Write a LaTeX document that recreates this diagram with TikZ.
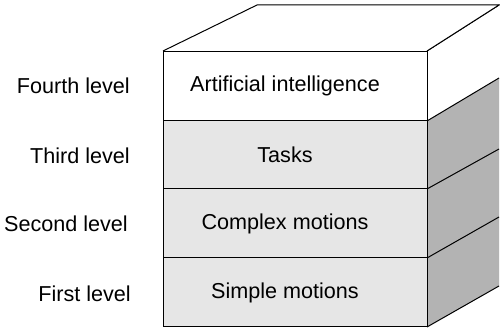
\documentclass[tikz,border=0pt]{standalone}
\usepackage{fontspec}
\setmainfont{Liberation Sans}
\definecolor{frontgray}{HTML}{E6E6E6}
\definecolor{sidegray}{HTML}{B3B3B3}
\begin{document}
\begin{tikzpicture}[x=1pt,y=1pt,
  edge/.style={line width=1pt, line join=miter},
  face/.style={draw, line width=1pt, rectangle, inner sep=0pt, minimum width=264pt, minimum height=69pt},
  facetext/.style={font=\fontsize{21.6}{24}\selectfont, inner sep=0pt},
  lvl/.style={font=\fontsize{21.6}{24}\selectfont, anchor=east, inner sep=0pt}]
\useasboundingbox (0,0) rectangle (500,328);
% coordinates
\coordinate (fl4) at (163,277); \coordinate (fr4) at (427,277);
\coordinate (fr3) at (427,207); \coordinate (fr2) at (427,139);
\coordinate (fr1) at (427,70);  \coordinate (fr0) at (427,1);
\coordinate (bl) at (257,323);  \coordinate (br4) at (499,323);
\coordinate (br3) at (499,250); \coordinate (br2) at (499,179);
\coordinate (br1) at (499,111); \coordinate (br0) at (499,42);
% side faces
\fill[white] (fr4) -- (br4) -- (br3) -- (fr3) -- cycle;
\fill[sidegray] (fr3) -- (br3) -- (br0) -- (fr0) -- cycle;
\draw[edge] (fr4) -- (br4);
\draw[edge] (fr3) -- (br3);
\draw[edge] (fr2) -- (br2);
\draw[edge] (fr1) -- (br1);
\draw[edge] (fr0) -- (br0);
% top face
\draw[edge, fill=white] (fl4) -- (bl) -- (br4) -- (fr4);
% front faces
\node[face, fill=white] (f4) at (295,242) {};
\node[face, fill=frontgray, minimum height=68pt] (f3) at (295,173) {};
\node[face, fill=frontgray] (f2) at (295,104.5) {};
\node[face, fill=frontgray, minimum height=69pt] (f1) at (295,35.5) {};
% texts
\node[facetext] (t4) at (285,242) {Artificial intelligence};
\node[facetext] (t3) at (285,173) {Tasks};
\node[facetext] (t2) at (285,104.5) {Complex motions};
\node[facetext] (t1) at (285,35.5) {Simple motions};
% level labels
\node[lvl] (l4) at (130,242) {Fourth level};
\node[lvl] (l3) at (130,172) {Third level};
\node[lvl] (l2) at (128,104) {Second level};
\node[lvl] (l1) at (131,34) {First level};
\end{tikzpicture}
\end{document}
